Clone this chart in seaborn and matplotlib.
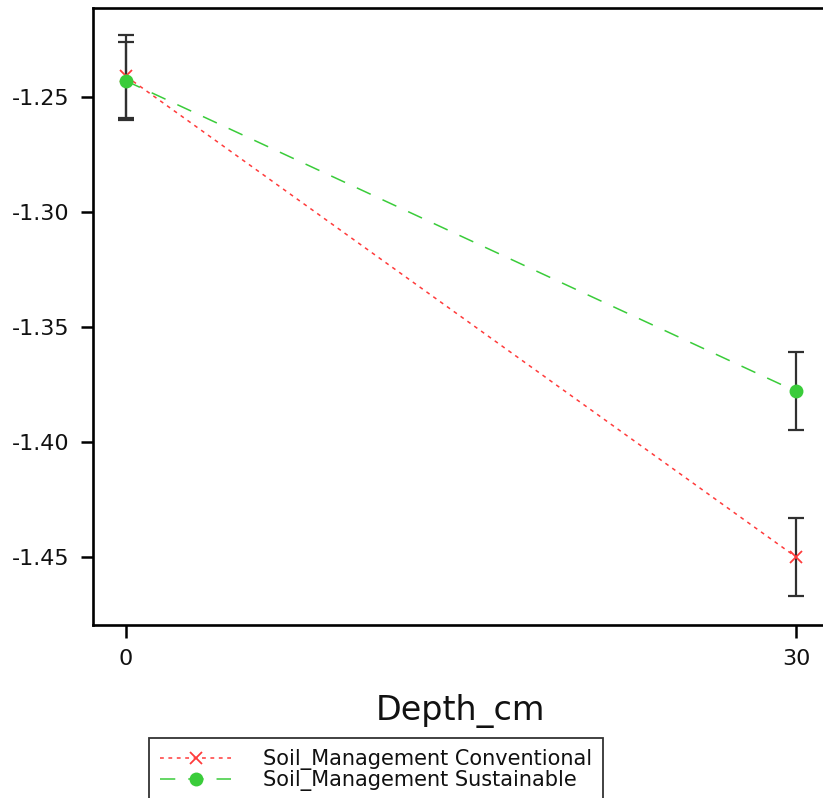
import matplotlib
matplotlib.use("Agg")
import matplotlib.pyplot as plt
import seaborn as sns
import pandas as pd
from matplotlib.lines import Line2D

depth = [0, 30]
groups = ["Soil_Management Conventional", "Soil_Management Sustainable"]
conv_mean = [-1.241, -1.450]
conv_err = [0.018, 0.017]
sust_mean = [-1.243, -1.378]
sust_err = [0.017, 0.017]
yticks = [-1.25, -1.30, -1.35, -1.40, -1.45]
ytick_labels = ["-1.25", "-1.30", "-1.35", "-1.40", "-1.45"]
xticks = [0, 30]

sns.set_style("ticks")
plt.rcParams["font.family"] = ["DejaVu Sans"]
plt.rcParams["axes.unicode_minus"] = False

df = pd.DataFrame({
    "Depth_cm": depth * 2,
    "value": conv_mean + sust_mean,
    "group": [groups[0]] * 2 + [groups[1]] * 2,
})

red = "#ff3b3b"
green = "#3acc3a"
red_ls = (0, (2.5, 3))
green_ls = (0, (10, 8.5))

fig = plt.figure(figsize=(8.23, 7.98), dpi=100)
ax = fig.add_axes([93 / 823, 1 - 625 / 798, (829 - 93) / 823, (625 - 8) / 798])

# error bars (beneath markers)
ax.errorbar(depth, conv_mean, yerr=conv_err, fmt="none", ecolor="#303030",
            elinewidth=1.6, capsize=5.8, capthick=1.6, zorder=1)
ax.errorbar(depth, sust_mean, yerr=sust_err, fmt="none", ecolor="#303030",
            elinewidth=1.6, capsize=5.8, capthick=1.6, zorder=1)

sns.lineplot(data=df[df.group == groups[0]], x="Depth_cm", y="value", ax=ax,
             color=red, linestyle=red_ls, linewidth=1.1, marker="x",
             markersize=9, markeredgewidth=1.3, markeredgecolor=red,
             legend=False, zorder=3)
sns.lineplot(data=df[df.group == groups[1]], x="Depth_cm", y="value", ax=ax,
             color=green, linestyle=green_ls, linewidth=1.1, marker="o",
             markersize=10, markeredgewidth=0, legend=False, zorder=4)

ax.set_xlim(-1.48, 31.48)
ax.set_ylim(-1.4796, -1.2113)
ax.set_yticks(yticks)
ax.set_yticklabels(ytick_labels)
ax.set_xticks(xticks)
ax.set_xticklabels([str(v) for v in xticks])
ax.tick_params(axis="both", direction="out", length=9, width=1.8,
               labelsize=16, color="black", labelcolor="#111111", pad=8)
for s in ["left", "top", "bottom"]:
    ax.spines[s].set_linewidth(1.9)
    ax.spines[s].set_color("black")
ax.spines["right"].set_visible(False)
ax.set_ylabel("")
ax.set_xlabel("Depth_cm", fontsize=24, color="#111111", labelpad=18)

handles = [
    Line2D([], [], color=red, linestyle=red_ls, linewidth=1.1, marker="x",
           markersize=9, markeredgewidth=1.3),
    Line2D([], [], color=green, linestyle=green_ls, linewidth=1.1, marker="o",
           markersize=10, markeredgewidth=0),
]
leg = fig.legend(handles, groups, loc="upper left",
                 bbox_to_anchor=(149 / 823, 1 - 738 / 798),
                 fontsize=15, frameon=True, fancybox=False, handlelength=3.4,
                 handletextpad=1.5, labelspacing=0.0, borderpad=0.55,
                 borderaxespad=0)
leg.get_frame().set_edgecolor("black")
leg.get_frame().set_linewidth(1.3)
for t in leg.get_texts():
    t.set_color("#111111")

fig.savefig("out.png", dpi=100)
